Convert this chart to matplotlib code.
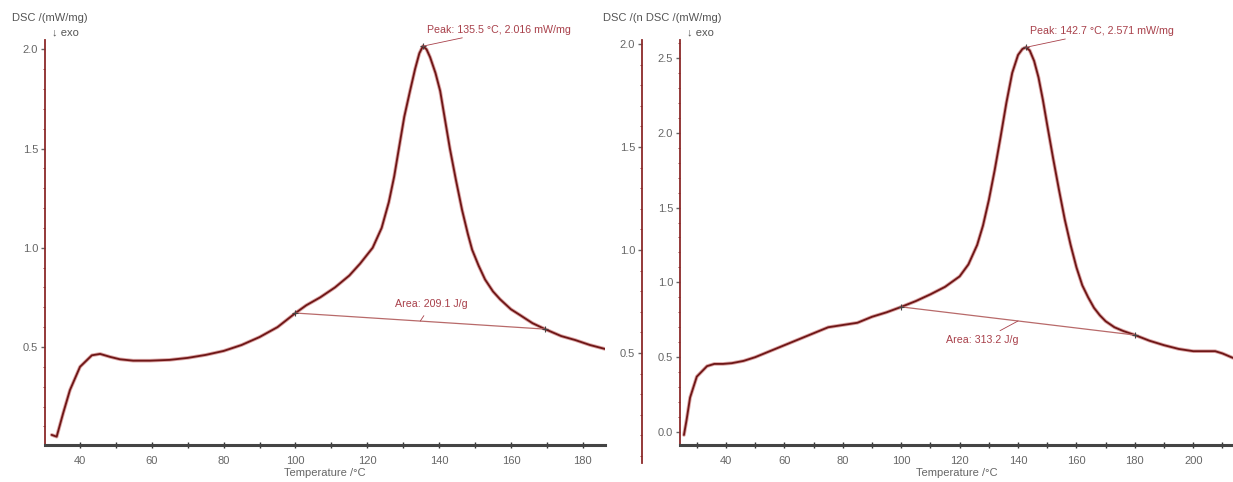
import matplotlib.pyplot as plt
from matplotlib.ticker import MultipleLocator

plt.rcParams['font.family'] = ['Liberation Sans', 'DejaVu Sans']

# sample 1 (left)
temp_1 = [32.1, 33.5, 35.3, 37.2, 40.0, 43.3, 45.6, 48.4, 51.1, 54.8, 59.5, 65, 70, 75, 80, 85, 90, 95,
          100, 103, 106.9, 111, 115, 118, 121.5, 124, 126, 127.5, 128.8, 130.3, 131.9, 133.3, 134.5,
          135.5, 136.5, 137.5, 139, 140.3, 141.6, 143, 144.7, 146.4, 148, 149.2, 151, 152.8, 155, 157,
          160, 162.6, 166, 169.5, 174, 177.9, 182, 186.2]
dsc_1 = [0.057, 0.048, 0.166, 0.283, 0.40, 0.458, 0.465, 0.45, 0.438, 0.431, 0.431, 0.435, 0.445, 0.46,
         0.48, 0.51, 0.55, 0.6, 0.671, 0.71, 0.75, 0.80, 0.86, 0.92, 1.0, 1.1, 1.23, 1.36, 1.5, 1.66,
         1.79, 1.9, 1.98, 2.016, 2.0, 1.96, 1.88, 1.79, 1.65, 1.5, 1.34, 1.19, 1.07, 0.99, 0.91, 0.84,
         0.78, 0.74, 0.69, 0.66, 0.62, 0.59, 0.555, 0.535, 0.51, 0.49]
peak_t_1, peak_v_1 = 135.5, 2.016
base_t_1 = [100.0, 169.5]
base_v_1 = [0.671, 0.59]

# sample 2 (right)
temp_2 = [25.6, 26.5, 27.7, 30, 33.5, 36, 39, 42, 46, 50, 55, 60, 65, 70, 75, 80, 85, 90, 95, 100, 105,
          110, 115, 120, 123, 126, 128, 130, 132, 134, 136, 138, 140, 141.5, 142.7, 144, 145.5, 147,
          148.5, 150, 152, 154, 156, 158, 160, 162, 164, 166, 168, 170, 173, 176, 180, 185, 190, 195,
          200, 204, 207.5, 210, 213.6]
dsc_2 = [-0.02, 0.08, 0.23, 0.37, 0.44, 0.455, 0.455, 0.46, 0.475, 0.50, 0.54, 0.58, 0.62, 0.66, 0.70,
         0.715, 0.73, 0.77, 0.80, 0.836, 0.875, 0.92, 0.97, 1.04, 1.12, 1.25, 1.38, 1.55, 1.75, 1.97,
         2.2, 2.4, 2.52, 2.56, 2.571, 2.55, 2.48, 2.37, 2.22, 2.05, 1.83, 1.62, 1.42, 1.25, 1.1, 0.98,
         0.9, 0.83, 0.78, 0.74, 0.70, 0.675, 0.648, 0.61, 0.58, 0.555, 0.54, 0.54, 0.54, 0.525, 0.495]
peak_t_2, peak_v_2 = 142.7, 2.571
base_t_2 = [100.0, 180.0]
base_v_2 = [0.836, 0.648]

curve_col = '#6e1616'
halo_col = '#c46a6a'
axis_col = '#8b2a2a'
text_col = '#a8404a'
tick_col = '#666666'

W, H = 1233, 482
fig = plt.figure(figsize=(W / 100, H / 100), dpi=100)


def px(x0, y0, x1, y1):
    # pixel box -> figure fraction [left, bottom, width, height]
    return [x0 / W, 1 - y1 / H, (x1 - x0) / W, (y1 - y0) / H]


def style_axes(ax):
    for s in ['top', 'right']:
        ax.spines[s].set_visible(False)
    ax.spines['left'].set_color(axis_col)
    ax.spines['left'].set_linewidth(1.3)
    ax.spines['bottom'].set_color('#444444')
    ax.spines['bottom'].set_linewidth(2.2)
    ax.xaxis.set_major_locator(MultipleLocator(20))
    ax.xaxis.set_minor_locator(MultipleLocator(10))
    ax.yaxis.set_major_locator(MultipleLocator(0.5))
    ax.yaxis.set_minor_locator(MultipleLocator(0.1))
    ax.tick_params(axis='x', which='both', direction='inout', length=5, width=1, color='#333333',
                   labelsize=8, labelcolor=tick_col, pad=5.5)
    ax.tick_params(axis='y', which='major', direction='out', length=3, width=1, color=tick_col,
                   labelsize=8, labelcolor=tick_col, pad=2)
    ax.tick_params(axis='y', which='minor', direction='out', length=1.5, width=0.6, color=axis_col)
    ax.yaxis.set_major_formatter(plt.FuncFormatter(lambda v, p: '%.1f' % v))
    ax.set_xlabel('Temperature /°C', fontsize=8, color=tick_col, labelpad=1.5)
    ax.patch.set_alpha(0)


def draw(ax, t, v, pt, pv, bt, bv, peak_txt, area_txt, area_off):
    ax.plot(t, v, color=halo_col, lw=2.6, alpha=0.6, solid_capstyle='round')
    ax.plot(t, v, color=curve_col, lw=1.3, solid_capstyle='round')
    ax.plot(bt, bv, color='#b86a6a', lw=0.9)
    ax.plot(bt, bv, ls='none', marker='+', ms=5, mew=0.8, color='#444444')
    ax.plot([pt], [pv], ls='none', marker='+', ms=5, mew=0.8, color='#444444')
    ax.annotate(peak_txt, xy=(pt, pv), xytext=(3, 8), textcoords='offset points',
                fontsize=7.7, color=text_col, ha='left', va='bottom',
                arrowprops=dict(arrowstyle='-', color=text_col, lw=0.6, shrinkA=0, shrinkB=0))
    mt = (bt[0] + bt[1]) / 2
    mv = bv[0] + (bv[1] - bv[0]) * (mt - bt[0]) / (bt[1] - bt[0])
    ax.annotate(area_txt, xy=(mt, mv), xytext=area_off, textcoords='offset points',
                fontsize=7.7, color=text_col, ha='center', va='center',
                arrowprops=dict(arrowstyle='-', color=text_col, lw=0.6, shrinkA=3, shrinkB=0))


# left panel
ax1 = fig.add_axes(px(45, 40, 605, 445))
style_axes(ax1)
ax1.set_xlim(30.25, 186.2)
ax1.set_ylim(0.006, 2.047)
draw(ax1, temp_1, dsc_1, peak_t_1, peak_v_1, base_t_1, base_v_1,
     'Peak: 135.5 °C, 2.016 mW/mg', 'Area: 209.1 J/g', (8, 12))

# right panel: stale outer axis
ax0 = fig.add_axes(px(642, 40, 660, 463))
for s in ['top', 'right', 'bottom']:
    ax0.spines[s].set_visible(False)
ax0.spines['left'].set_color(axis_col)
ax0.spines['left'].set_linewidth(1.3)
ax0.set_xticks([])
ax0.set_ylim(-0.034, 2.019)
ax0.yaxis.set_minor_locator(MultipleLocator(0.1))
ax0.set_yticks([0.5, 1.0, 1.5, 2.0])
ax0.yaxis.set_major_formatter(plt.FuncFormatter(lambda v, p: '%.1f' % v))
ax0.tick_params(axis='y', which='major', direction='out', length=3, width=1, color=tick_col,
                labelsize=8, labelcolor=tick_col, pad=2)
ax0.tick_params(axis='y', which='minor', direction='out', length=1.5, width=0.6, color=axis_col)
ax0.patch.set_alpha(0)

ax2 = fig.add_axes(px(680, 40, 1233, 445))
style_axes(ax2)
ax2.set_xlim(24.25, 213.6)
ax2.set_ylim(-0.087, 2.62)
draw(ax2, temp_2, dsc_2, peak_t_2, peak_v_2, base_t_2, base_v_2,
     'Peak: 142.7 °C, 2.571 mW/mg', 'Area: 313.2 J/g', (-26, -14))

# y-axis captions
fig.text(12 / W, 1 - 18 / H, 'DSC /(mW/mg)', fontsize=8, color='#555555', va='center', ha='left')
fig.text(52 / W, 1 - 32 / H, '↓ exo', fontsize=8, color='#555555', va='center', ha='left')
fig.text(603 / W, 1 - 18 / H, 'DSC /(n DSC /(mW/mg)', fontsize=8, color='#555555', va='center', ha='left')
fig.text(687 / W, 1 - 32 / H, '↓ exo', fontsize=8, color='#555555', va='center', ha='left')

fig.savefig('out.png', dpi=100)
